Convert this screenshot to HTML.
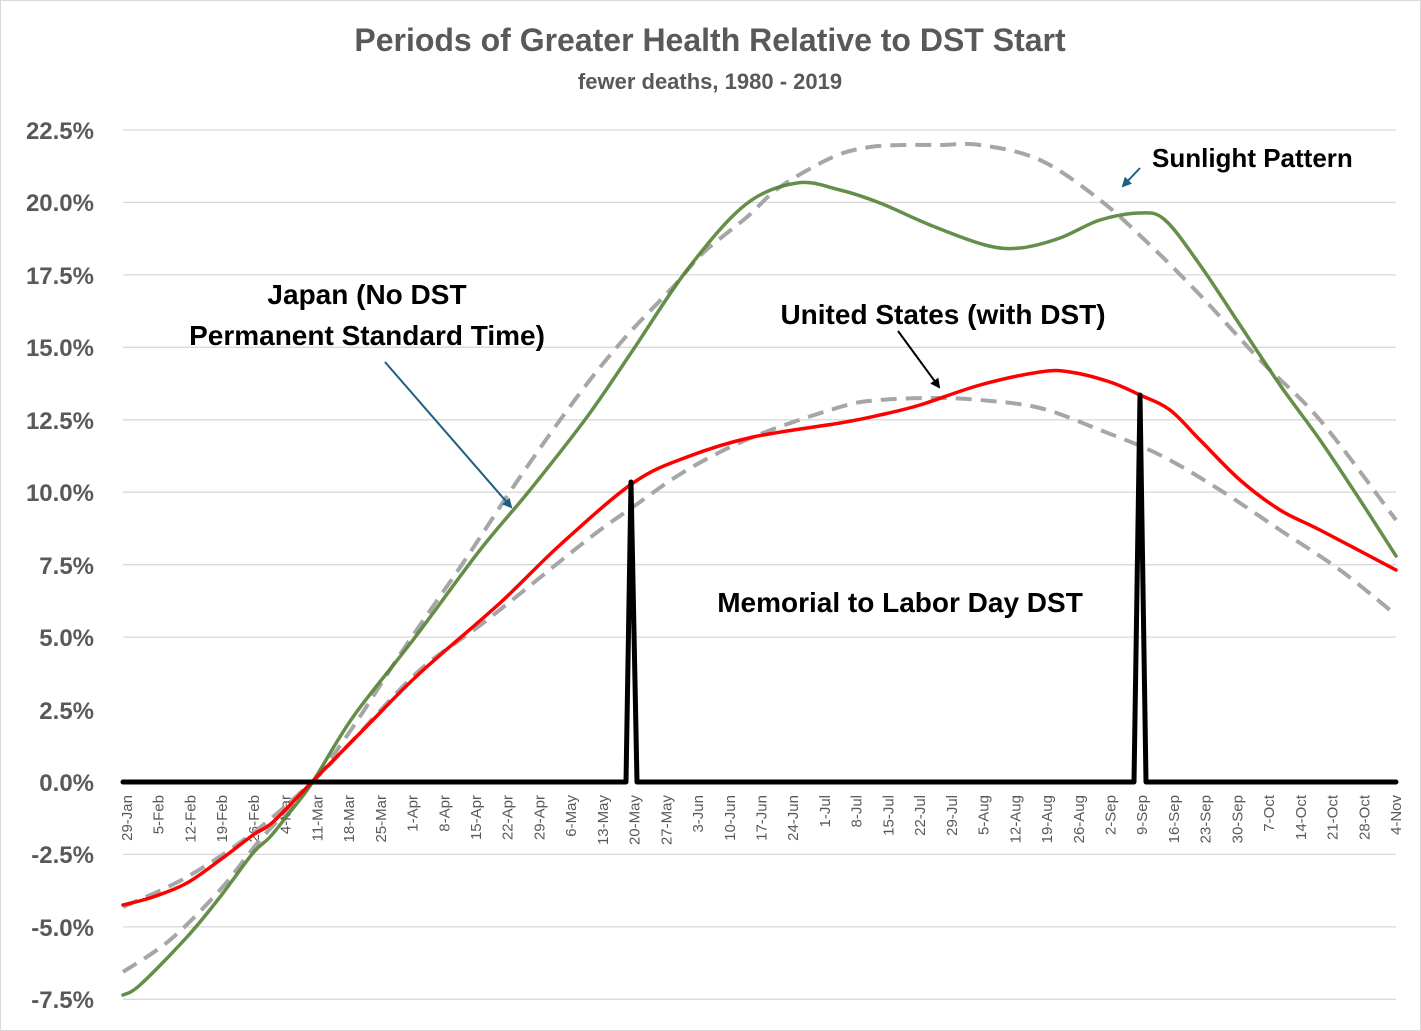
<!DOCTYPE html>
<html><head><meta charset="utf-8"><style>
body{margin:0;background:#fff}
svg{display:block;font-family:"Liberation Sans",Arial,sans-serif}
</style></head><body>
<svg width="1421" height="1031" viewBox="0 0 1421 1031">
<rect x="0.5" y="0.5" width="1420" height="1030" fill="#fff" stroke="#d9d9d9"/>
<text x="710" y="51" text-anchor="middle" font-size="32" font-weight="bold" fill="#595959">Periods of Greater Health Relative to DST Start</text>
<text x="710" y="89" text-anchor="middle" font-size="22" font-weight="bold" fill="#595959">fewer deaths, 1980 - 2019</text>
<g stroke="#d9d9d9" stroke-width="1.3">
<line x1="123" x2="1396" y1="130" y2="130"/><line x1="123" x2="1396" y1="202.4" y2="202.4"/>
<line x1="123" x2="1396" y1="274.9" y2="274.9"/><line x1="123" x2="1396" y1="347.3" y2="347.3"/>
<line x1="123" x2="1396" y1="419.8" y2="419.8"/><line x1="123" x2="1396" y1="492.2" y2="492.2"/>
<line x1="123" x2="1396" y1="564.7" y2="564.7"/><line x1="123" x2="1396" y1="637.1" y2="637.1"/>
<line x1="123" x2="1396" y1="854.4" y2="854.4"/><line x1="123" x2="1396" y1="926.9" y2="926.9"/>
<line x1="123" x2="1396" y1="999.3" y2="999.3"/>
</g>
<g font-size="24" font-weight="bold" fill="#595959" text-anchor="end">
<text x="94" y="139">22.5%</text><text x="94" y="211">20.0%</text><text x="94" y="284">17.5%</text>
<text x="94" y="356">15.0%</text><text x="94" y="429">12.5%</text><text x="94" y="501">10.0%</text>
<text x="94" y="574">7.5%</text><text x="94" y="646">5.0%</text><text x="94" y="719">2.5%</text>
<text x="94" y="791">0.0%</text><text x="94" y="863">-2.5%</text><text x="94" y="936">-5.0%</text>
<text x="94" y="1008">-7.5%</text>
</g>
<g id="xl" font-size="15" fill="#595959" text-anchor="end"></g>
<g fill="none" stroke-linejoin="round" stroke-linecap="round">
<path id="gj" stroke="#a6a6a6" stroke-width="4" stroke-dasharray="16,9" stroke-linecap="butt"/>
<path id="gu" stroke="#a6a6a6" stroke-width="4" stroke-dasharray="16,9" stroke-linecap="butt"/>
<path id="jp" stroke="#548235" stroke-width="3.5" opacity="0.9"/>
<path id="us" stroke="#ff0000" stroke-width="3.5"/>
<path d="M123 782 L626 782 L631 482 L637 782 L1134 782 L1140 395 L1146 782 L1396 782" stroke="#000" stroke-width="5"/>
</g>
<g font-size="28" font-weight="bold" fill="#000">
<text x="1152" y="167" font-size="26">Sunlight Pattern</text>
<text x="367" y="304" text-anchor="middle">Japan (No DST</text>
<text x="367" y="345" text-anchor="middle">Permanent Standard Time)</text>
<text x="943" y="324" text-anchor="middle">United States (with DST)</text>
<text x="900" y="612" text-anchor="middle">Memorial to Labor Day DST</text>
</g>
<defs>
<marker id="at" viewBox="0 0 10 10" refX="8" refY="5" markerWidth="5" markerHeight="5" orient="auto"><path d="M0 0L10 5L0 10z" fill="#1f5f7f"/></marker>
<marker id="ab" viewBox="0 0 10 10" refX="8" refY="5" markerWidth="5" markerHeight="5" orient="auto"><path d="M0 0L10 5L0 10z" fill="#000"/></marker>
</defs>
<line x1="1140" y1="168" x2="1123" y2="186" stroke="#1f5f7f" stroke-width="2" marker-end="url(#at)"/>
<line x1="385" y1="362" x2="511" y2="507" stroke="#1f5f7f" stroke-width="2" marker-end="url(#at)"/>
<line x1="898" y1="331" x2="939" y2="387" stroke="#000" stroke-width="2" marker-end="url(#ab)"/>
</svg>
<script>
var labels="29-Jan,5-Feb,12-Feb,19-Feb,26-Feb,4-Mar,11-Mar,18-Mar,25-Mar,1-Apr,8-Apr,15-Apr,22-Apr,29-Apr,6-May,13-May,20-May,27-May,3-Jun,10-Jun,17-Jun,24-Jun,1-Jul,8-Jul,15-Jul,22-Jul,29-Jul,5-Aug,12-Aug,19-Aug,26-Aug,2-Sep,9-Sep,16-Sep,23-Sep,30-Sep,7-Oct,14-Oct,21-Oct,28-Oct,4-Nov".split(",");
var g=document.getElementById("xl"),ns="http://www.w3.org/2000/svg";
labels.forEach(function(l,i){var x=127+i*31.725;var t=document.createElementNS(ns,"text");t.setAttribute("transform","translate("+(x+5)+",795) rotate(-90)");t.textContent=l;g.appendChild(t);});
function cr(p){var d="M"+p[0][0]+" "+p[0][1];for(var i=0;i<p.length-1;i++){var p0=p[i-1]||p[i],p1=p[i],p2=p[i+1],p3=p[i+2]||p2;d+=" C"+(p1[0]+(p2[0]-p0[0])/6)+" "+(p1[1]+(p2[1]-p0[1])/6)+" "+(p2[0]-(p3[0]-p1[0])/6)+" "+(p2[1]-(p3[1]-p1[1])/6)+" "+p2[0]+" "+p2[1];}return d;}
document.getElementById("jp").setAttribute("d",cr([[123,995],[140,985],[187,937],[220,897],[253,853],[270,837],[290,812],[312,783],[353,717],[413,640],[480,550],[530,490],[587,417],[633,350],[687,270],[745,205],[797,183],[840,190],[880,203],[930,225],[985,245],[1020,248],[1060,238],[1100,220],[1140,213],[1165,220],[1200,265],[1240,325],[1280,385],[1320,440],[1360,500],[1396,556]]));
document.getElementById("us").setAttribute("d",cr([[123,905],[153,897],[187,883],[220,860],[253,835],[273,822],[312,782],[370,723],[420,673],[500,603],[560,545],[633,483],[687,457],[753,437],[840,423],[880,415],[920,405],[980,385],[1040,372],[1070,372],[1110,382],[1140,395],[1170,410],[1200,440],[1240,480],[1280,510],[1320,530],[1396,570]]));
document.getElementById("gj").setAttribute("d",cr([[123,972],[170,940],[220,890],[260,840],[312,783],[353,727],[403,650],[463,563],[520,477],[577,397],[623,340],[673,287],[703,253],[747,217],[780,187],[833,157],[870,147],[905,145],[940,145],[980,145],[1040,160],[1100,200],[1150,245],[1200,295],[1260,360],[1320,420],[1396,520]]));
document.getElementById("gu").setAttribute("d",cr([[123,907],[187,877],[253,833],[312,782],[353,740],[420,670],[487,620],[587,540],[633,507],[687,470],[753,437],[840,407],[880,400],[935,398],[980,400],[1040,408],[1100,430],[1160,455],[1220,490],[1280,530],[1340,570],[1396,615]]));
</script>
</body></html>
